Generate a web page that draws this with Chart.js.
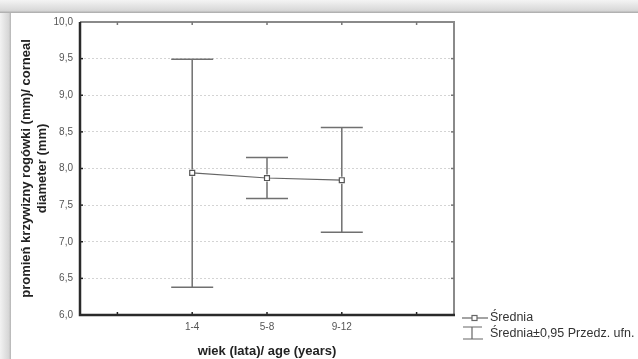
<!DOCTYPE html>
<html lang="pl">
<head>
<meta charset="UTF-8">
<title>Chart</title>
<script src="https://cdn.jsdelivr.net/npm/chart.js@4.4.1/dist/chart.umd.min.js"></script>
<style>
  body { margin: 0; background: #fff; }
  canvas { display: block; }
</style>
</head>
<body>
<canvas id="chart" width="638" height="359"></canvas>
<script>
// categories (empty slots at both ends, as in the original axis)
var xlabels = ['', '1-4', '5-8', '9-12', ''];
var means = [null, 7.94, 7.87, 7.84, null];
var upper = [null, 9.49, 8.15, 8.56, null];
var lower = [null, 6.38, 7.59, 7.13, null];
var ylabels = ['6,0', '6,5', '7,0', '7,5', '8,0', '8,5', '9,0', '9,5', '10,0'];

var plotL = 80, plotT = 22, plotR = 454, plotB = 315;

// page background: shaded top band and left edge
const backdrop = {
    id: 'backdrop',
    beforeDraw(chart) {
        const c = chart.ctx;
        c.save();
        let g = c.createLinearGradient(0, 0, 0, 13);
        g.addColorStop(0, '#f4f4f4');
        g.addColorStop(0.8, '#d8d8d8');
        g.addColorStop(1, '#a8a8a8');
        c.fillStyle = g;
        c.fillRect(0, 0, chart.width, 13);
        g = c.createLinearGradient(0, 0, 11, 0);
        g.addColorStop(0, '#f2f2f2');
        g.addColorStop(0.8, '#d6d6d6');
        g.addColorStop(1, '#b4b4b4');
        c.fillStyle = g;
        c.fillRect(0, 13, 11, chart.height - 13);
        c.restore();
    }
};

// error bars, frame, inner tick marks and legend
const extras = {
    id: 'extras',
    afterDatasetsDraw(chart) {
        const c = chart.ctx;
        const x = chart.scales.x, y = chart.scales.y;
        c.save();
        c.strokeStyle = '#707070';
        c.lineWidth = 1.5;
        for (let i = 0; i < xlabels.length; i++) {
            if (upper[i] == null) continue;
            const px = x.getPixelForValue(i);
            const py = y.getPixelForValue(means[i]);
            const pu = y.getPixelForValue(upper[i]);
            const pl = y.getPixelForValue(lower[i]);
            c.beginPath();
            c.moveTo(px, pu); c.lineTo(px, py - 3.5);
            c.moveTo(px, py + 3.5); c.lineTo(px, pl);
            c.moveTo(px - 21, pu); c.lineTo(px + 21, pu);
            c.moveTo(px - 21, pl); c.lineTo(px + 21, pl);
            c.stroke();
        }
        c.restore();
    },
    afterDraw(chart) {
        const c = chart.ctx;
        const a = chart.chartArea;
        const x = chart.scales.x, y = chart.scales.y;
        c.save();
        // top and right border
        c.strokeStyle = '#8a8a8a';
        c.lineWidth = 2;
        c.beginPath();
        c.moveTo(a.left, a.top); c.lineTo(a.right, a.top); c.lineTo(a.right, a.bottom);
        c.stroke();
        // tick marks
        c.lineWidth = 1.5;
        for (let i = 0; i < xlabels.length; i++) {
            const px = x.getPixelForValue(i);
            c.strokeStyle = '#777';
            c.beginPath(); c.moveTo(px, a.top); c.lineTo(px, a.top + 3); c.stroke();
            c.strokeStyle = '#222';
            c.beginPath(); c.moveTo(px, a.bottom); c.lineTo(px, a.bottom - 3); c.stroke();
        }
        for (let v = 6.5; v < 10; v += 0.5) {
            const py = y.getPixelForValue(v);
            c.strokeStyle = '#222';
            c.beginPath(); c.moveTo(a.left, py); c.lineTo(a.left + 3, py); c.stroke();
            c.strokeStyle = '#777';
            c.beginPath(); c.moveTo(a.right, py); c.lineTo(a.right - 3, py); c.stroke();
        }
        // left and bottom border
        c.strokeStyle = '#2a2a2a';
        c.lineWidth = 2.5;
        c.beginPath();
        c.moveTo(a.left, a.top); c.lineTo(a.left, a.bottom); c.lineTo(a.right + 1, a.bottom);
        c.stroke();

        // legend
        c.strokeStyle = '#666';
        c.lineWidth = 1.2;
        c.beginPath(); c.moveTo(462, 318); c.lineTo(488, 318); c.stroke();
        c.fillStyle = '#fff';
        c.fillRect(472, 315.5, 5, 5);
        c.strokeRect(472, 315.5, 5, 5);
        c.beginPath();
        c.moveTo(463, 327); c.lineTo(482, 327);
        c.moveTo(472, 327); c.lineTo(472, 339);
        c.moveTo(463, 339); c.lineTo(483, 339);
        c.stroke();
        c.fillStyle = '#333';
        c.font = '12.5px "Liberation Sans", Arial, sans-serif';
        c.textBaseline = 'middle';
        c.fillText('Średnia', 490, 318);
        c.fillText('Średnia±0,95 Przedz. ufn.', 490, 334);
        c.restore();
    }
};

new Chart(document.getElementById('chart').getContext('2d'), {
    type: 'line',
    data: {
        labels: xlabels,
        datasets: [{
            label: 'Średnia',
            data: means,
            borderColor: '#666',
            borderWidth: 1.2,
            pointStyle: 'rect',
            pointRadius: 3.5,
            pointBorderWidth: 1.2,
            pointBackgroundColor: '#fff',
            pointBorderColor: '#555',
            spanGaps: false,
            tension: 0
        }]
    },
    options: {
        responsive: false,
        animation: false,
        layout: { padding: { top: plotT, right: 638 - plotR, left: 0, bottom: 0 } },
        plugins: { legend: { display: false }, tooltip: { enabled: false } },
        scales: {
            x: {
                offset: true,
                grid: { display: false, drawTicks: false },
                border: { display: false },
                ticks: { color: '#555', font: { size: 10, family: '"Liberation Sans", Arial' }, padding: 6, maxRotation: 0 },
                title: {
                    display: true,
                    text: 'wiek (lata)/ age (years)',
                    color: '#222',
                    font: { size: 13, weight: 'bold', family: '"Liberation Sans", Arial' },
                    padding: { top: 7, bottom: 0 }
                },
                afterFit(s) { s.height = 359 - plotB; }
            },
            y: {
                min: 6, max: 10,
                grid: { color: '#d4d4d4', lineWidth: 1, drawTicks: false },
                border: { display: false, dash: [2, 2] },
                ticks: {
                    stepSize: 0.5,
                    color: '#555',
                    padding: 7,
                    font: { size: 10, family: '"Liberation Sans", Arial' },
                    callback: (v, i) => ylabels[i]
                },
                title: {
                    display: true,
                    text: ['promień krzywizny rogówki (mm)/ corneal', 'diameter (mm)'],
                    color: '#222',
                    font: { size: 13, weight: 'bold', family: '"Liberation Sans", Arial' },
                    padding: { top: 19, bottom: 0 }
                },
                afterFit(s) { s.width = plotL; }
            }
        }
    },
    plugins: [backdrop, extras]
});
</script>
</body>
</html>
